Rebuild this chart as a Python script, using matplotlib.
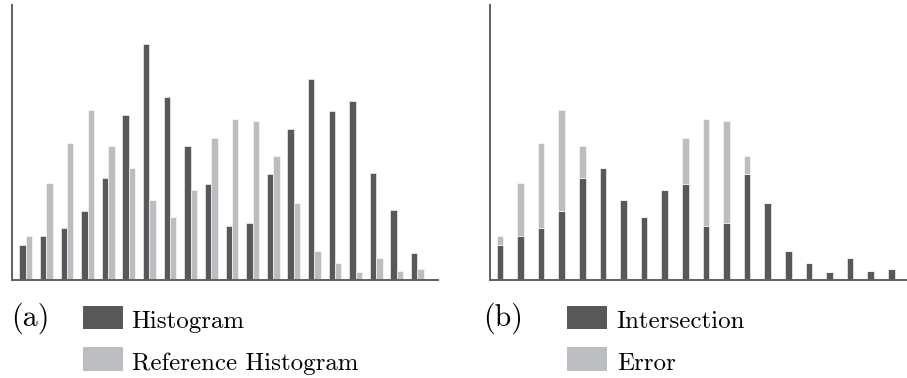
import numpy as np
import matplotlib
matplotlib.use("Agg")
import matplotlib.pyplot as plt
from matplotlib.patches import Rectangle

# bin heights (arbitrary units)
histogram = [35, 43.7, 52, 69.3, 101.7, 165, 235.7, 182.7, 134, 96.3,
             54.3, 57.3, 105.7, 150.7, 201, 169.3, 179, 107, 70, 27]
reference = [44, 96.7, 137, 170.3, 133.7, 112.3, 80, 63, 90.3, 142.3,
             161.3, 159, 124.3, 77.3, 29.3, 16.7, 8.3, 22.3, 9.3, 10.7]
labels_a = ["Histogram", "Reference Histogram"]
labels_b = ["Intersection", "Error"]

dark = "#58585a"
light = "#bcbdc0"
spine = "#606060"

h = np.array(histogram)
r = np.array(reference)
inter = np.minimum(h, r)
err = np.where(r > h, r - h, 0)  # only the part of the reference above the histogram shows
x = np.arange(len(h))

W, H = 907, 378
fig = plt.figure(figsize=(W / 100, H / 100), dpi=100)

def px_axes(x0, x1, y0, y1):
    return fig.add_axes([x0 / W, 1 - y1 / H, (x1 - x0) / W, (y1 - y0) / H])

ax1 = px_axes(12, 438, 5, 280)
ax2 = px_axes(490, 907, 5, 280)

w = 0.31
ax1.bar(x - w / 2, h, width=w, color=dark, edgecolor="white", linewidth=0.4)
ax1.bar(x + w / 2, r, width=w, color=light, edgecolor="white", linewidth=0.4)
ax1.set_xlim(-0.67, 20.0)

ax2.bar(x, inter, width=0.32, color=dark, edgecolor="white", linewidth=0.4)
ax2.bar(x, err, bottom=inter, width=0.32, color=light, edgecolor="white", linewidth=0.4)
ax2.set_xlim(-0.485, 19.76)

for ax in (ax1, ax2):
    ax.set_ylim(0, 275)
    ax.set_xticks([])
    ax.set_yticks([])
    for s in ("top", "right"):
        ax.spines[s].set_visible(False)
    for s in ("left", "bottom"):
        ax.spines[s].set_color(spine)
        ax.spines[s].set_linewidth(1.4)

font = "cmr10"

def legend_block(tag, tag_x, sq_x, txt_x, labels):
    fig.text(tag_x / W, 1 - 325.5 / H, tag, family=font, fontsize=21.6, va="baseline")
    for lab, col, top, base in zip(labels, (dark, light), (305.5, 347), (328.3, 369.8)):
        fig.add_artist(Rectangle((sq_x / W, 1 - (top + 23.5) / H), 40 / W, 23.5 / H,
                                 transform=fig.transFigure, color=col, lw=0))
        fig.text(txt_x / W, 1 - base / H, lab, family=font, fontsize=17.9, va="baseline")

legend_block("(a)", 11.5, 82.5, 131.5, labels_a)
legend_block("(b)", 483, 566.7, 616.7, labels_b)

fig.savefig("out.png", dpi=100)
